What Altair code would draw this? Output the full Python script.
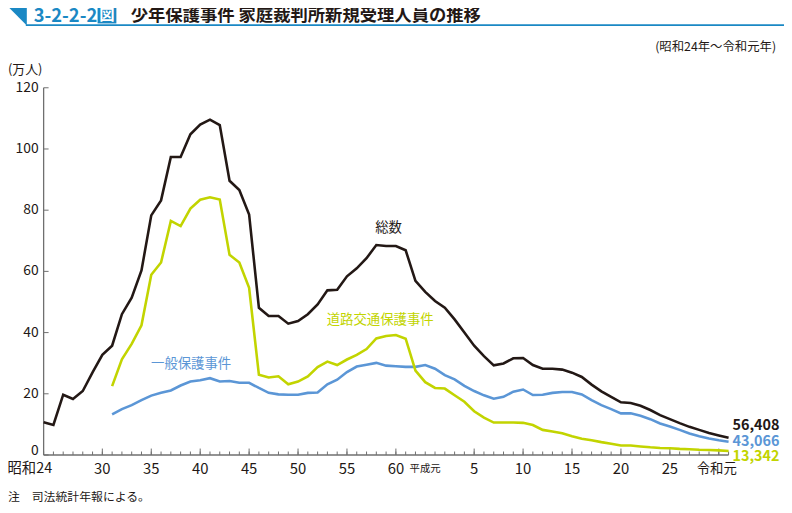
import altair as alt
import pandas as pd

# ---------------- data (万人) ----------------
years = list(range(1949, 2020))
total = [10.7, 9.8, 19.7, 18.3, 20.9, 27.0, 32.7, 35.7, 46.0, 51.4,
         60.3, 78.3, 83.2, 97.4, 97.4, 104.8, 108.0, 109.6, 107.8, 89.6,
         86.6, 78.6, 48.1, 45.4, 45.4, 42.9, 43.8, 46.0, 49.2, 53.8,
         54.0, 58.4, 61.0, 64.3, 68.6, 68.3, 68.3, 66.9, 56.9, 53.3,
         50.3, 48.1, 44.3, 40.0, 35.7, 32.3, 29.3, 29.9, 31.6, 31.7,
         29.4, 28.2, 28.2, 27.9, 26.9, 25.5, 23.0, 20.8, 19.0, 17.2,
         17.0, 16.1, 14.7, 13.0, 11.7, 10.4, 9.2, 8.2, 7.2, 6.4, 5.64]

sub_years = list(range(1956, 2020))
general = [13.3, 15.0, 16.3, 17.9, 19.4, 20.3, 21.1, 22.7, 24.0, 24.4,
           25.1, 24.0, 24.2, 23.6, 23.6, 21.9, 20.3, 19.8, 19.7, 19.7,
           20.3, 20.4, 23.1, 24.6, 27.1, 28.9, 29.5, 30.1, 29.2, 29.0,
           28.8, 28.8, 29.4, 28.2, 26.1, 24.7, 22.6, 20.9, 19.5, 18.4,
           19.0, 20.7, 21.4, 19.6, 19.7, 20.3, 20.6, 20.6, 19.8, 17.9,
           16.3, 15.0, 13.6, 13.6, 12.8, 11.7, 10.3, 9.3, 8.2, 7.0,
           6.1, 5.4, 4.8, 4.31]
traffic = [22.5, 31.3, 36.3, 42.4, 58.9, 62.9, 76.5, 74.8, 80.5, 83.4,
           84.2, 83.5, 65.4, 62.9, 54.6, 26.2, 25.3, 25.7, 23.1, 24.0,
           25.7, 28.7, 30.5, 29.4, 31.2, 32.7, 34.6, 38.1, 38.9, 39.2,
           38.0, 27.6, 23.8, 21.9, 21.7, 19.5, 17.4, 14.3, 12.2, 10.6,
           10.6, 10.6, 10.5, 9.8, 8.2, 7.7, 7.1, 6.1, 5.3, 4.8,
           4.2, 3.7, 3.1, 3.1, 2.8, 2.5, 2.3, 2.2, 2.0, 1.9,
           1.7, 1.6, 1.5, 1.33]

x_label_years = [1949, 1955, 1960, 1965, 1970, 1975, 1980, 1985, 1989,
                 1993, 1998, 2003, 2008, 2013, 2019]
x_label_text = ["昭和24", "30", "35", "40", "45", "50", "55", "60", "平成元",
                "5", "10", "15", "20", "25", "令和元"]
major_tick_years = [1955, 1960, 1965, 1970, 1975, 1980, 1985,
                    1993, 1998, 2003, 2008, 2013, 2018]
y_ticks = [0, 20, 40, 60, 80, 100, 120]
end_labels = ["56,408", "43,066", "13,342"]

# ---------------- style ----------------
FONT = "Noto Sans CJK JP"
BLACK = "#231815"
BLUE = "#5b96d6"
GREEN = "#c2d400"
HEAD = "#1a88c4"
AXIS = "#6f6f6f"
W, H = 692, 371

xs = alt.Scale(domain=[1949, 2019], nice=False, zero=False)
ys = alt.Scale(domain=[0, 120], nice=False)

df_total = pd.DataFrame({"year": years, "value": total})
df_gen = pd.DataFrame({"year": sub_years, "value": general})
df_tra = pd.DataFrame({"year": sub_years, "value": traffic})
df_xl = pd.DataFrame({"year": x_label_years, "label": x_label_text})
df_minor = pd.DataFrame({"year": years})
df_major = pd.DataFrame({"year": major_tick_years})
df_yt = pd.DataFrame({"value": y_ticks})
one = alt.Data(values=[{}])


def line(df, color):
    return alt.Chart(df).mark_line(color=color, strokeWidth=2.6).encode(
        x=alt.X("year:Q", scale=xs, axis=None),
        y=alt.Y("value:Q", scale=ys, axis=None),
    )


total_line = line(df_total, BLACK)
gen_line = line(df_gen, BLUE)
tra_line = line(df_tra, GREEN)

# axes (drawn as guides)
x_domain = alt.Chart(one).mark_rule(color=AXIS, strokeWidth=1.3).encode(
    x=alt.value(0), x2=alt.value(W), y=alt.value(H))
y_domain = alt.Chart(one).mark_rule(color=AXIS, strokeWidth=1.3).encode(
    x=alt.value(0), y=alt.value(0), y2=alt.value(H))
minor_ticks = alt.Chart(df_minor).mark_rule(color=AXIS, strokeWidth=1).encode(
    x=alt.X("year:Q", scale=xs, axis=None),
    y=alt.value(H), y2=alt.value(H - 3.5))
major_ticks = alt.Chart(df_major).mark_rule(color=AXIS, strokeWidth=1).encode(
    x=alt.X("year:Q", scale=xs, axis=None),
    y=alt.value(H), y2=alt.value(H - 6.5))
y_tick_marks = alt.Chart(df_yt).mark_rule(color=AXIS, strokeWidth=1).encode(
    y=alt.Y("value:Q", scale=ys, axis=None),
    x=alt.value(0), x2=alt.value(5))


def ylabels(filter_expr, dy):
    return alt.Chart(df_yt).transform_filter(filter_expr).mark_text(
        font=FONT, fontSize=14, color=BLACK, align="right", baseline="middle", dy=dy
    ).encode(y=alt.Y("value:Q", scale=ys, axis=None), x=alt.value(-5),
             text=alt.Text("value:Q", format="d"))


y_labels = ylabels("datum.value > 0", 0)
y_label0 = ylabels("datum.value == 0", -4)


def xlabels(filter_expr, dx, size=15):
    return alt.Chart(df_xl).transform_filter(filter_expr).mark_text(
        font=FONT, fontSize=size, color=BLACK, baseline="middle", dx=dx
    ).encode(x=alt.X("year:Q", scale=xs, axis=None), y=alt.value(H + 14),
             text="label:N")


xl_normal = xlabels("datum.year != 1949 && datum.year != 1989 && datum.year != 2019", 0)
xl_showa = xlabels("datum.year == 1949", -14, 14.5)
xl_heisei = xlabels("datum.year == 1989", -10, 10.5)
xl_reiwa = xlabels("datum.year == 2019", -12, 13.5)


def txt(text, x, y, size, color=BLACK, align="left", weight="normal"):
    return alt.Chart(one).mark_text(
        text=text, font=FONT, fontSize=size, color=color, align=align,
        baseline="middle", fontWeight=weight
    ).encode(x=alt.value(x), y=alt.value(y))


# series labels
lab_total = txt("総数", 348.5, 142, 13.5, BLACK, "center")
lab_tra = txt("道路交通保護事件", 340, 235, 13.5, GREEN, "center")
lab_gen = txt("一般保護事件", 149, 279, 13.5, BLUE, "center")

# end values
end1 = txt(end_labels[0], 696, 342, 14.5, BLACK, "left", "bold")
end2 = txt(end_labels[1], 696, 358, 14.5, BLUE, "left", "bold")
end3 = txt(end_labels[2], 696, 373.5, 14.5, GREEN, "left", "bold")

# header
tri = alt.Chart(one).mark_point(
    shape="M -1 -1 L 1 -1 L 1 1 Z", filled=True, color=HEAD, opacity=1,
    size=400, strokeWidth=0
).encode(x=alt.value(-27), y=alt.value(-73))
head_line = alt.Chart(one).mark_rule(color=HEAD, strokeWidth=1.6).encode(
    x=alt.value(-18), x2=alt.value(748), y=alt.value(-63.3))
fig_no = txt("3-2-2-2", -10, -72.5, 18.5, HEAD, "left", "bold")
fig_box = alt.Chart(one).mark_rect(color=HEAD).encode(
    x=alt.value(54.5), x2=alt.value(73.5), y=alt.value(-82), y2=alt.value(-65))
fig_zu = txt("図", 64, -73.5, 15.5, "white", "center", "bold")
title = txt("少年保護事件 家庭裁判所新規受理人員の推移", 88, -72.5, 17.5, BLACK, "left", "bold")
subtitle = txt("(昭和24年〜令和元年)", 740, -41, 12.5, BLACK, "right")
unit = txt("(万人)", -36, -18, 13, BLACK, "left")
note = txt("注　司法統計年報による。", -36, 413, 12, BLACK, "left")

chart = alt.layer(
    x_domain, y_domain, minor_ticks, major_ticks, y_tick_marks, y_labels, y_label0,
    total_line, gen_line, tra_line,
    xl_normal, xl_showa, xl_heisei, xl_reiwa,
    lab_total, lab_tra, lab_gen, end1, end2, end3,
    tri, head_line, fig_no, fig_box, fig_zu, title, subtitle, unit, note,
).properties(
    width=W, height=H,
    autosize=alt.AutoSizeParams(type="none"),
    padding={"left": 36, "top": 78, "right": 56, "bottom": 54},
    background="white",
).configure_view(stroke=None)

chart.save("out.html", embed_options={"renderer": "svg", "actions": False})
